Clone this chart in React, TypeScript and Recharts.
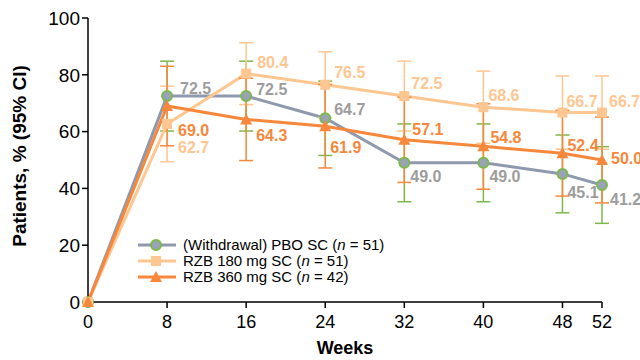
import { ErrorBar, LabelList, Line, LineChart, XAxis, YAxis, Label } from "recharts";

const weeks = [0, 8, 16, 24, 32, 40, 48, 52];
const weekTicks = [0, 8, 16, 24, 32, 40, 48, 52];
const yTicks = [0, 20, 40, 60, 80, 100];

const pbo = [0, 72.5, 72.5, 64.7, 49.0, 49.0, 45.1, 41.2];
const pboLow = [null, 60.2, 60.2, 51.6, 35.3, 35.3, 31.4, 27.7];
const pboHigh = [null, 84.8, 84.8, 77.8, 62.7, 62.7, 58.8, 54.7];

const rzb180 = [0, 62.7, 80.4, 76.5, 72.5, 68.6, 66.7, 66.7];
const rzb180Low = [null, 49.4, 69.5, 64.9, 60.2, 55.9, 53.8, 53.8];
const rzb180High = [null, 76.0, 91.3, 88.1, 84.8, 81.3, 79.6, 79.6];

const rzb360 = [0, 69.0, 64.3, 61.9, 57.1, 54.8, 52.4, 50.0];
const rzb360Low = [null, 55.0, 49.8, 47.2, 42.1, 39.7, 37.3, 34.9];
const rzb360High = [null, 83.0, 78.8, 76.6, 72.1, 69.8, 67.5, 65.1];

const seriesNames = [
  ["(Withdrawal) PBO SC (", "n", " = 51)"],
  ["RZB 180 mg SC (", "n", " = 51)"],
  ["RZB 360 mg SC (", "n", " = 42)"],
];

// label offsets from the point [dx, dy]
const pboOff = [[0, 0], [13, -8], [10, -7], [9, -9], [6, 14], [6, 14], [5, 19], [8, 15]];
const r180Off = [[0, 0], [11, 24], [11, -11], [9, -12], [7, -13], [5, -12], [4, -11], [7, -11]];
const r360Off = [[0, 0], [11, 24], [10, 16], [5, 21], [8, -10], [7, -9], [5, -8], [9, -2]];

const FONT = "Arial, 'Liberation Sans', Helvetica, sans-serif";
const GREY = "#8f99ae";
const GREY_TXT = "#9d9d9d";
const GREEN = "#7cb84a";
const LIGHT = "#fec690";
const ORANGE = "#f7873a";

const err = (v: number, lo: number | null, hi: number | null) =>
  lo == null || hi == null ? undefined : [+(v - lo).toFixed(2), +(hi - v).toFixed(2)];

const data = weeks.map((w, i) => ({
  week: w,
  pbo: pbo[i],
  pboErr: err(pbo[i], pboLow[i], pboHigh[i]),
  r180: rzb180[i],
  r180Err: err(rzb180[i], rzb180Low[i], rzb180High[i]),
  r360: rzb360[i],
  r360Err: err(rzb360[i], rzb360Low[i], rzb360High[i]),
}));

const makeLabel = (off: number[][], color: string) => (p: any) => {
  const { x, y, index, value } = p;
  if (!index) return null;
  return (
    <text x={x + off[index][0]} y={y + off[index][1]} fill={color} fontSize={16} fontWeight="bold"
      fontFamily={FONT} dominantBaseline="central">
      {Number(value).toFixed(1)}
    </text>
  );
};

const circleDot = (p: any) => (
  <circle key={`c${p.index}`} cx={p.cx} cy={p.cy} r={5} fill="#9aa2b6" stroke={GREEN} strokeWidth={2} />
);
const squareDot = (p: any) => (
  <rect key={`s${p.index}`} x={p.cx - 5} y={p.cy - 5} width={10} height={10} fill={LIGHT} />
);
const triDot = (p: any) => (
  <path key={`t${p.index}`} d={`M${p.cx},${p.cy - 6}L${p.cx + 6},${p.cy + 5}L${p.cx - 6},${p.cy + 5}Z`} fill={ORANGE} />
);

function LegendIcon({ kind }: { kind: number }) {
  const col = kind === 0 ? GREY : kind === 1 ? LIGHT : ORANGE;
  return (
    <svg width={40} height={14} style={{ verticalAlign: "middle" }}>
      <line x1={0} y1={7} x2={38} y2={7} stroke={col} strokeWidth={3} />
      {kind === 0 && <circle cx={18} cy={7} r={5} fill="#9aa2b6" stroke={GREEN} strokeWidth={2} />}
      {kind === 1 && <rect x={13} y={2} width={10} height={10} fill={LIGHT} />}
      {kind === 2 && <path d="M18,1L24,12L12,12Z" fill={ORANGE} />}
    </svg>
  );
}

export default function App() {
  return (
    <div style={{ position: "absolute", left: 0, top: 0, width: 640, height: 360, background: "#fff", fontFamily: FONT }}>
      <LineChart width={640} height={360} data={data} margin={{ top: 18, right: 38, bottom: 6, left: 8 }}>
        <XAxis dataKey="week" type="number" domain={[0, 52]} ticks={weekTicks} height={52}
          stroke="#000" strokeWidth={1.5} tickSize={6} tickMargin={7}
          tick={{ fontSize: 18, fill: "#000", fontFamily: FONT }}>
          <Label value="Weeks" position="insideBottom" offset={0}
            style={{ fontSize: 18, fontWeight: "bold", fill: "#000", fontFamily: FONT }} />
        </XAxis>
        <YAxis type="number" domain={[0, 100]} ticks={yTicks} width={80} interval={0}
          stroke="#000" strokeWidth={1.5} tickSize={6}
          tick={{ fontSize: 19, fill: "#000", fontFamily: FONT }}>
          <Label content={(p: any) => {
            const vb = p.viewBox || { x: 8, y: 18, width: 80, height: 284 };
            const cx = vb.x + 11;
            const cy = vb.y + vb.height / 2 - 4;
            return (
              <text x={cx} y={cy} transform={`rotate(-90 ${cx} ${cy})`} textAnchor="middle"
                dominantBaseline="central" fontSize={19} fontWeight="bold" fontFamily={FONT} fill="#000">
                Patients, % (95% CI)
              </text>
            );
          }} />
        </YAxis>
        <Line dataKey="pbo" stroke={GREY} strokeWidth={3} dot={circleDot} isAnimationActive={false}>
          <ErrorBar dataKey="pboErr" width={7} stroke={GREEN} strokeWidth={1.5} direction="y" />
          <LabelList dataKey="pbo" content={makeLabel(pboOff, GREY_TXT)} />
        </Line>
        <Line dataKey="r180" stroke={LIGHT} strokeWidth={3} dot={squareDot} isAnimationActive={false}>
          <ErrorBar dataKey="r180Err" width={7} stroke={LIGHT} strokeWidth={1.5} direction="y" />
          <LabelList dataKey="r180" content={makeLabel(r180Off, LIGHT)} />
        </Line>
        <Line dataKey="r360" stroke={ORANGE} strokeWidth={3} dot={triDot} isAnimationActive={false}>
          <ErrorBar dataKey="r360Err" width={7} stroke={ORANGE} strokeWidth={1.5} direction="y" />
          <LabelList dataKey="r360" content={makeLabel(r360Off, ORANGE)} />
        </Line>
      </LineChart>
      <div style={{ position: "absolute", left: 138, top: 236, fontSize: 15, lineHeight: "16px", color: "#000" }}>
        {seriesNames.map((s, i) => (
          <div key={i} style={{ whiteSpace: "nowrap", height: 16 }}>
            <LegendIcon kind={i} />
            <span style={{ marginLeft: 5, verticalAlign: "middle" }}>
              {s[0]}<i>{s[1]}</i>{s[2]}
            </span>
          </div>
        ))}
      </div>
    </div>
  );
}
